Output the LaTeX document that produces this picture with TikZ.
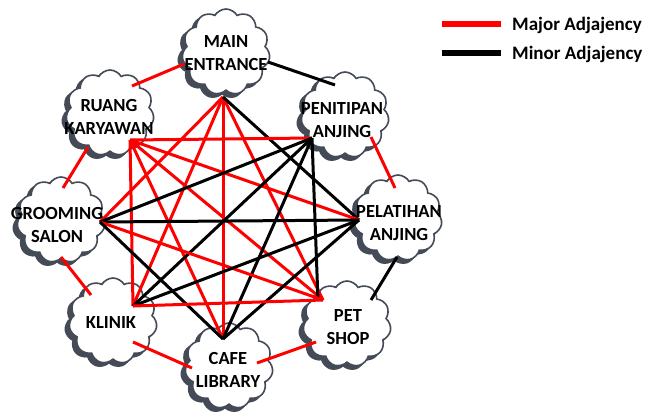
\documentclass[tikz,border=0pt]{standalone}
\usepackage{fontspec}
\setmainfont{Carlito}
\usetikzlibrary{shapes.symbols}
\definecolor{cloudgray}{RGB}{68,74,86}
\definecolor{majred}{RGB}{255,0,0}
\newcommand{\placecloud}[3]{%
  \node[roomshadow, xshift=-4pt, yshift=-3.5pt] (#1s) at (#2,#3) {};
  \node[room] (#1) at (#2,#3) {};}
\begin{document}
\begin{tikzpicture}[x=1pt,y=-1pt,
  cloudbase/.style={cloud, cloud puffs=11, cloud puff arc=120, line width=1.6pt,
    minimum width=88pt, minimum height=86pt, inner sep=0pt},
  room/.style={cloudbase, draw=cloudgray, fill=white},
  roomshadow/.style={cloudbase, draw=cloudgray, fill=cloudgray},
  roomtext/.style={font=\bfseries\fontsize{18.5}{23}\selectfont, align=center, inner sep=0pt},
  legtext/.style={font=\bfseries\fontsize{19}{22}\selectfont, anchor=base west, inner sep=0pt},
  major/.style={draw=majred, line width=3pt},
  minor/.style={draw=black, line width=3pt},
  legline/.style={line width=6.5pt},
]
\useasboundingbox (0,0) rectangle (658,416);

% clouds
\placecloud{main}{226}{52}
\placecloud{ruang}{110}{113}
\placecloud{penit}{345}{115}
\placecloud{groom}{61}{220}
\placecloud{pelat}{398}{218}
\placecloud{klinik}{113}{321}
\placecloud{pets}{347}{324}
\placecloud{cafe}{229}{366}

% hub points
\coordinate (hM) at (223,97);
\coordinate (hR) at (130,140);
\coordinate (hP) at (312,138);
\coordinate (hG) at (100,222);
\coordinate (hL) at (359,220);
\coordinate (hK) at (133,306);
\coordinate (hS) at (323,300);
\coordinate (hSb) at (318,301);
\coordinate (hC) at (223,339);

% inner connectors
\draw[major] (hM) -- (hG);
\draw[major] (hM) -- (hK);
\draw[major] (hM) -- (hC);
\draw[major] (hM) -- (hS);
\draw[minor] (hM) -- (hL);
\draw[major] (hR) -- (hP);
\draw[major] (hR) -- (hL);
\draw[major] (hR) -- (hS);
\draw[major] (hR) -- (hC);
\draw[major] (hR) -- (hK);
\draw[minor] (hP) -- (hG);
\draw[minor] (hP) -- (hK);
\draw[minor] (hP) -- (hC);
\draw[minor] (hP) -- (hSb);
\draw[minor] (hG) -- (hL);
\draw[major] (hG) -- (hS);
\draw[minor] (hG) -- (hC);
\draw[minor] (hL) -- (hK);
\draw[minor] (hL) -- (hC);
\draw[major] (hK) -- (hS);

% outer ring connectors
\coordinate (mr1) at (132,86);  \coordinate (mr2) at (184,64);
\coordinate (mp1) at (268,62);  \coordinate (mp2) at (335,85);
\coordinate (rg1) at (88,147);  \coordinate (rg2) at (63,188);
\coordinate (pl1) at (371,137); \coordinate (pl2) at (395,188);
\coordinate (gk1) at (61,257);  \coordinate (gk2) at (91,295);
\coordinate (ls1) at (397,257); \coordinate (ls2) at (371,300);
\coordinate (kc1) at (133,342); \coordinate (kc2) at (192,368);
\coordinate (cs1) at (257,363); \coordinate (cs2) at (316,342);
\draw[major] (mr1) -- (mr2);
\draw[minor] (mp1) -- (mp2);
\draw[major] (rg1) -- (rg2);
\draw[major] (pl1) -- (pl2);
\draw[major] (gk1) -- (gk2);
\draw[minor] (ls1) -- (ls2);
\draw[major] (kc1) -- (kc2);
\draw[major] (cs1) -- (cs2);

% texts
\node[roomtext] (tmain) at (226,53) {MAIN\\ENTRANCE};
\node[roomtext] (truang) at (109,117) {RUANG\\KARYAWAN};
\node[roomtext] (tpenit) at (342,120) {PENITIPAN\\ANJING};
\node[roomtext] (tgroom) at (57,225) {GROOMING\\SALON};
\node[roomtext] (tpelat) at (399,223) {PELATIHAN\\ANJING};
\node[roomtext] (tklinik) at (111,322) {KLINIK};
\node[roomtext] (tpets) at (348,327) {PET\\SHOP};
\node[roomtext] (tcafe) at (228,370) {CAFE\\LIBRARY};

% legend
\coordinate (lr1) at (442,24); \coordinate (lr2) at (501,24);
\coordinate (lb1) at (442,53); \coordinate (lb2) at (501,53);
\draw[legline, majred] (lr1) -- (lr2);
\draw[legline, black] (lb1) -- (lb2);
\node[legtext] (lmaj) at (512,30.5) {Major Adjajency};
\node[legtext] (lmin) at (512,59) {Minor Adjajency};
\end{tikzpicture}
\end{document}
